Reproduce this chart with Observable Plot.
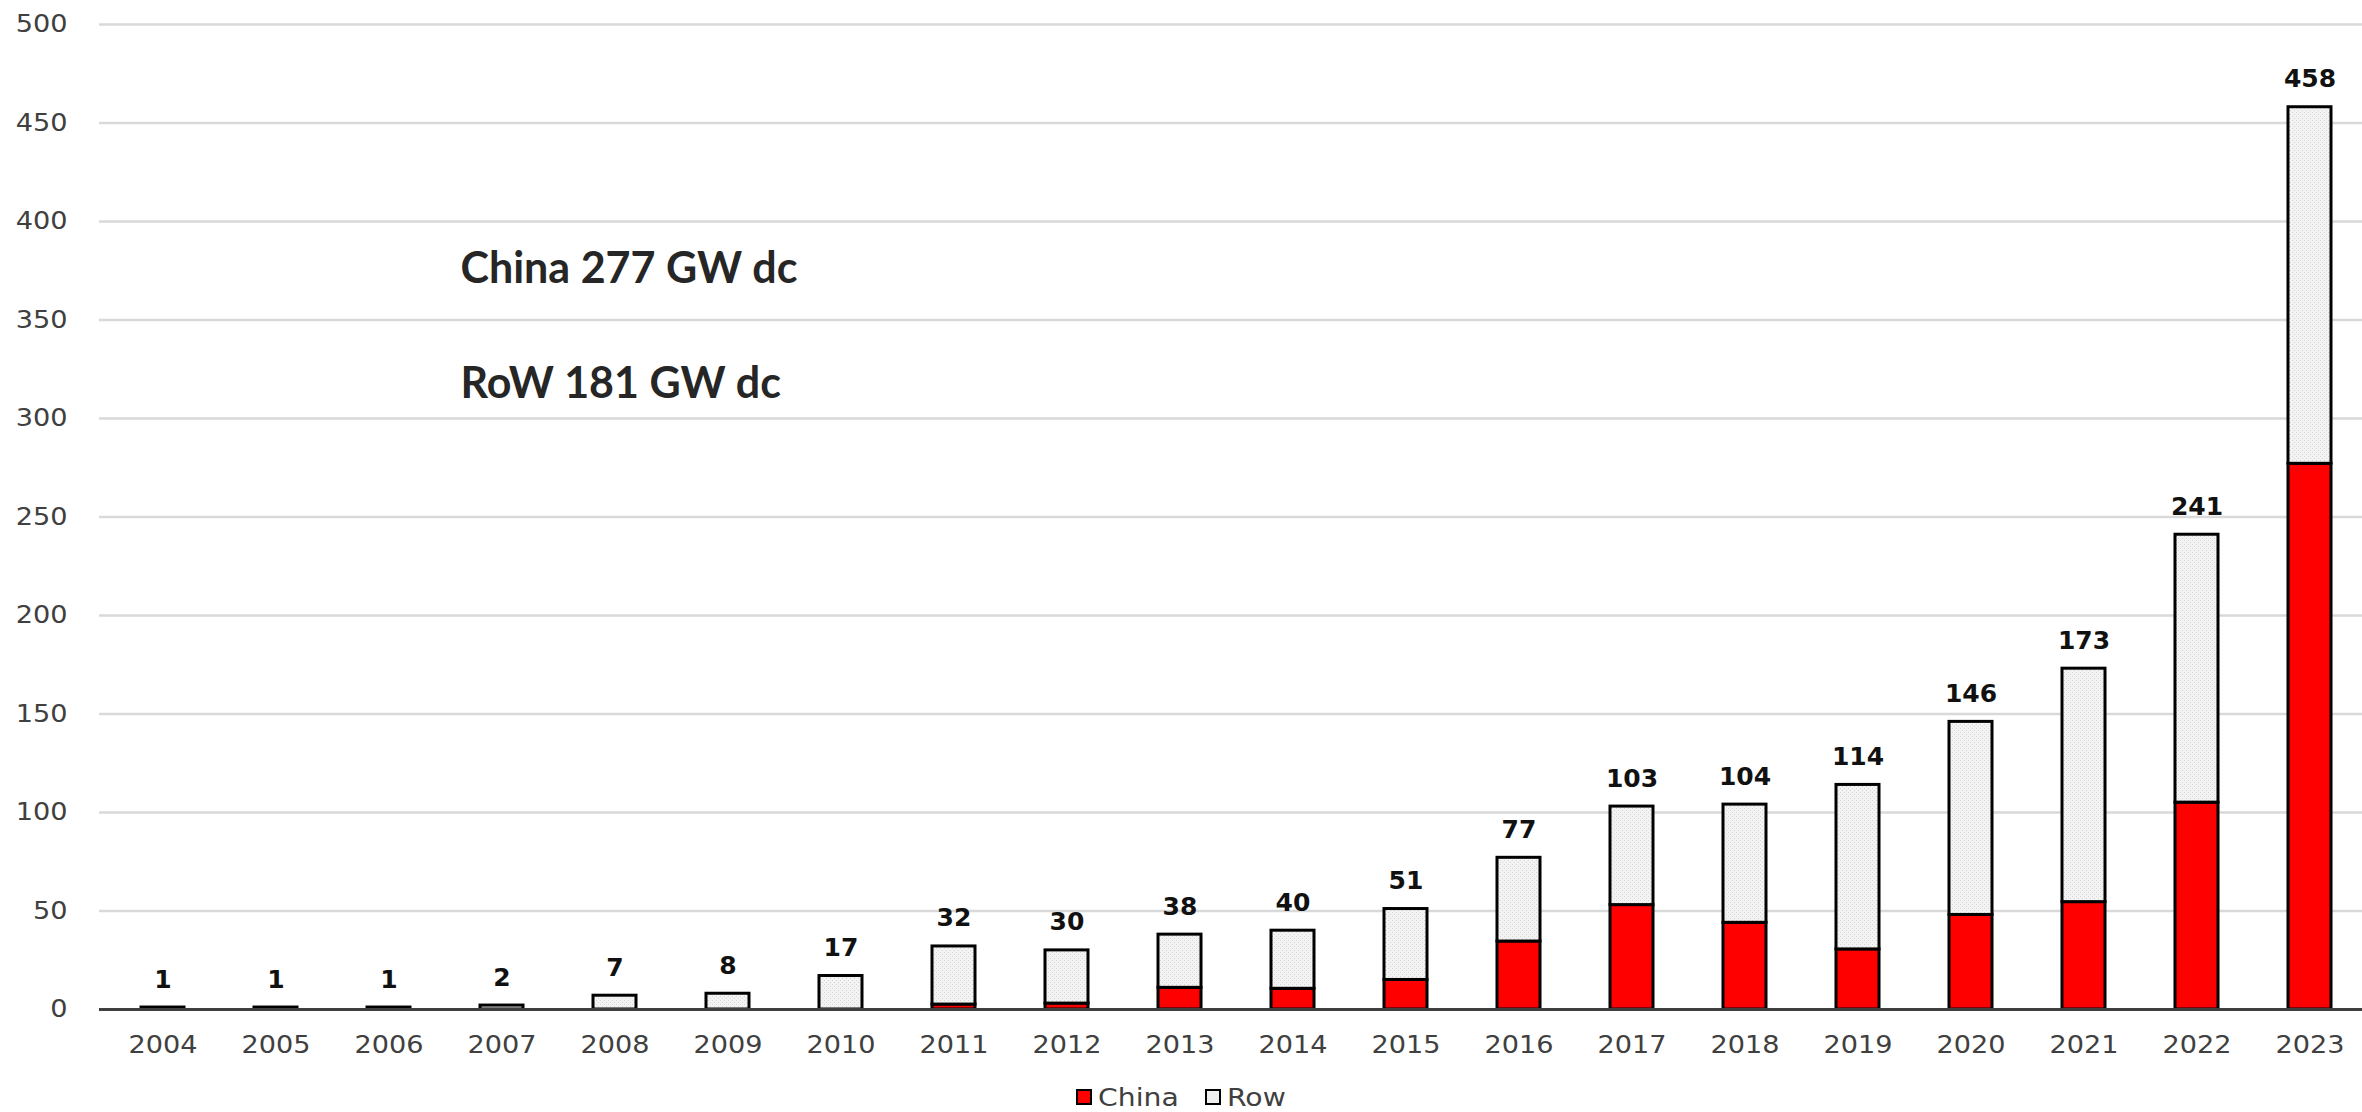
<!DOCTYPE html>
<html>
<head>
<meta charset="utf-8">
<script src="https://cdn.jsdelivr.net/npm/d3@7"></script>
<script src="https://cdn.jsdelivr.net/npm/@observablehq/plot@0.6"></script>
<style>
  html, body { margin: 0; padding: 0; background: #fff; overflow: hidden; }
  #chart svg { max-width: none; }
  .legend {
    display: flex; justify-content: center; align-items: center;
    gap: 26px; height: 42px; margin-top: 6px;
    font-family: "DejaVu Sans", sans-serif; font-size: 25px; color: #404040;
  }
  .legend .item { display: flex; align-items: center; gap: 6px; }
  .legend .swatch { width: 12px; height: 12px; border: 2px solid #000; }
  .legend .name { display: inline-block; transform: scaleX(1.13); transform-origin: 0 50%; }
</style>
</head>
<body>
<div id="chart"></div>
<div class="legend">
  <div class="item"><div class="swatch" style="background:#ff0000"></div><span class="name" style="margin-right:10px">China</span></div>
  <div class="item"><div class="swatch" style="background:#efefef"></div><span class="name" style="margin-right:7px">Row</span></div>
</div>
<script>
// Annual PV installations, GW dc
const years = ["2004","2005","2006","2007","2008","2009","2010","2011","2012","2013",
               "2014","2015","2016","2017","2018","2019","2020","2021","2022","2023"];
const china = [0, 0, 0, 0, 0, 0, 0, 2.5, 3, 11, 10.5, 15, 34.5, 53, 44, 30.5, 48, 54.5, 105, 277];
const row   = [1, 1, 1, 2, 7, 8, 17, 29.5, 27, 27, 29.5, 36, 42.5, 50, 60, 83.5, 98, 118.5, 136, 181];
const totals = [1, 1, 1, 2, 7, 8, 17, 32, 30, 38, 40, 51, 77, 103, 104, 114, 146, 173, 241, 458];
const yTicks = [0, 50, 100, 150, 200, 250, 300, 350, 400, 450, 500];
const notes = ["China 277 GW dc", "RoW 181 GW dc"];

const seriesNames = ["China", "Row"];
// Row bars use a fine dotted pattern defined below
const seriesFills = ["#ff0000", "url(#row-dots)"];

// long table: China rows first so they sit at the bottom of each stack
const stacked = [
  ...years.map((year, i) => ({year, series: "China", value: china[i]})),
  ...years.map((year, i) => ({year, series: "Row", value: row[i]}))
];
const labels = years.map((year, i) => ({year, total: totals[i]}));

const chart = Plot.plot({
  width: 2373,
  height: 1070,
  marginLeft: 99,
  marginRight: 0,
  marginTop: 24,
  marginBottom: 61,
  style: {fontFamily: "DejaVu Sans, sans-serif", fontSize: "24px", color: "#404040", background: "#fff"},
  x: {domain: years, padding: 0, label: null},
  y: {domain: [0, 500], ticks: yTicks, label: null},
  color: {type: "ordinal", domain: seriesNames, range: seriesFills},
  marks: [
    Plot.ruleY(yTicks.slice(1), {stroke: "#d9d9d9", strokeWidth: 2.5}),
    Plot.axisY({ticks: yTicks, tickSize: 0, tickPadding: 32, fontSize: 24, label: null}),
    Plot.axisX({tickSize: 0, tickPadding: 26, fontSize: 24, label: null}),
    Plot.barY(stacked, {
      x: "year", y: "value", fill: "series",
      stroke: "#000", strokeWidth: 3,
      insetLeft: 35, insetRight: 35
    }),
    Plot.ruleY([0], {stroke: "#404040", strokeWidth: 3}),
    Plot.text(labels, {
      x: "year", y: "total", text: d => String(d.total),
      lineAnchor: "bottom", dy: -20, ariaLabel: "value label",
      fontSize: 25, fontWeight: "bold", fill: "#111"
    }),
    Plot.text([notes[0]], {
      frameAnchor: "top-left", textAnchor: "start", lineAnchor: "bottom",
      dx: 361, dy: 258,
      fontFamily: "Lato, sans-serif", fontSize: 43, fontWeight: "bold", fill: "#262626"
    }),
    Plot.text([notes[1]], {
      frameAnchor: "top-left", textAnchor: "start", lineAnchor: "bottom",
      dx: 361, dy: 373,
      fontFamily: "Lato, sans-serif", fontSize: 43, fontWeight: "bold", fill: "#262626"
    })
  ]
});

// dotted fill pattern for the Row segments
const ns = "http://www.w3.org/2000/svg";
const defs = document.createElementNS(ns, "defs");
defs.innerHTML = `
  <pattern id="row-dots" width="4" height="4" patternUnits="userSpaceOnUse">
    <rect width="4" height="4" fill="#f3f3f3"></rect>
    <rect x="0" y="0" width="1" height="1" fill="#d6d6d6"></rect>
    <rect x="2" y="2" width="1" height="1" fill="#d6d6d6"></rect>
  </pattern>`;
chart.insertBefore(defs, chart.firstChild);

document.getElementById("chart").append(chart);

// the axis and value labels are set slightly wide
const wide = 1.13;
chart.querySelectorAll(
  'g[aria-label="x-axis tick label"] text, g[aria-label="y-axis tick label"] text, g[aria-label="value label"] text'
).forEach(t => {
  const len = t.getComputedTextLength();
  t.setAttribute("textLength", (len * wide).toFixed(1));
  t.setAttribute("lengthAdjust", "spacingAndGlyphs");
});
</script>
</body>
</html>
